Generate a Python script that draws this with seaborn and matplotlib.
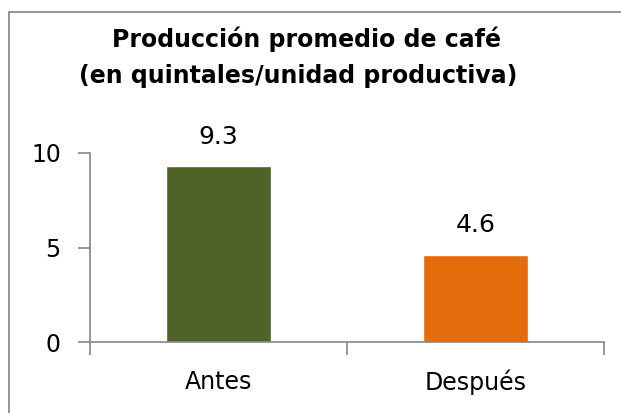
import matplotlib
matplotlib.use("Agg")
import matplotlib.pyplot as plt
import seaborn as sns
import pandas as pd
from matplotlib.patches import Rectangle

periodos = ["Antes", "Después"]
produccion = [9.3, 4.6]
colores = ["#4F6228", "#E46C0A"]
titulo_1 = "Producción promedio de café"
titulo_2 = "(en quintales/unidad productiva)"

df = pd.DataFrame({"periodo": periodos, "quintales": produccion})

sns.set_style("white")
plt.rcParams["font.family"] = ["DejaVu Sans"]
plt.rcParams["text.color"] = "black"
plt.rcParams["xtick.color"] = "black"
plt.rcParams["ytick.color"] = "black"

fig = plt.figure(figsize=(6.21, 4.13), dpi=100)
ax = fig.add_axes([90 / 621, 1 - 342 / 413, (604 - 90) / 621, (342 - 153) / 413])

sns.barplot(data=df, x="periodo", y="quintales", hue="periodo",
            palette=colores, width=0.405, legend=False, ax=ax, saturation=1)

for i, v in enumerate(produccion):
    ax.text(i, v + 1.2, f"{v:.1f}", ha="center", va="baseline", fontsize=18)

ax.set_ylim(0, 10)
ax.set_xlim(-0.5, 1.5)
ax.set_yticks([0, 5, 10])
ax.set_xlabel("")
ax.set_ylabel("")

gris = "#868686"
for s in ["top", "right"]:
    ax.spines[s].set_visible(False)
for s in ["left", "bottom"]:
    ax.spines[s].set_color(gris)
    ax.spines[s].set_linewidth(1.2)

ax.tick_params(axis="y", length=9, width=1.2, color=gris, direction="out",
               labelsize=17, pad=12, left=True, labelcolor="black")
ax.set_xticks([0, 1])
ax.set_xticklabels(periodos)
ax.tick_params(axis="x", length=0, labelsize=17, pad=20, labelcolor="black")
ax.set_xticks([-0.5, 0.5, 1.5], minor=True)
ax.tick_params(axis="x", which="minor", length=9, width=1.2, color=gris,
               direction="out", bottom=True)

fig.text(307 / 621, 1 - 47.5 / 413, titulo_1, ha="center", va="baseline",
         fontsize=17, fontweight="bold")
fig.text(298 / 621, 1 - 83 / 413, titulo_2, ha="center", va="baseline",
         fontsize=17, fontweight="bold")

fig.patches.append(Rectangle((9 / 621, -0.05), 1.2, 1 - 12 / 413 + 0.05,
                             transform=fig.transFigure, fill=False,
                             edgecolor="#8c8c8c", linewidth=1.3))

fig.savefig("out.png", dpi=100)
